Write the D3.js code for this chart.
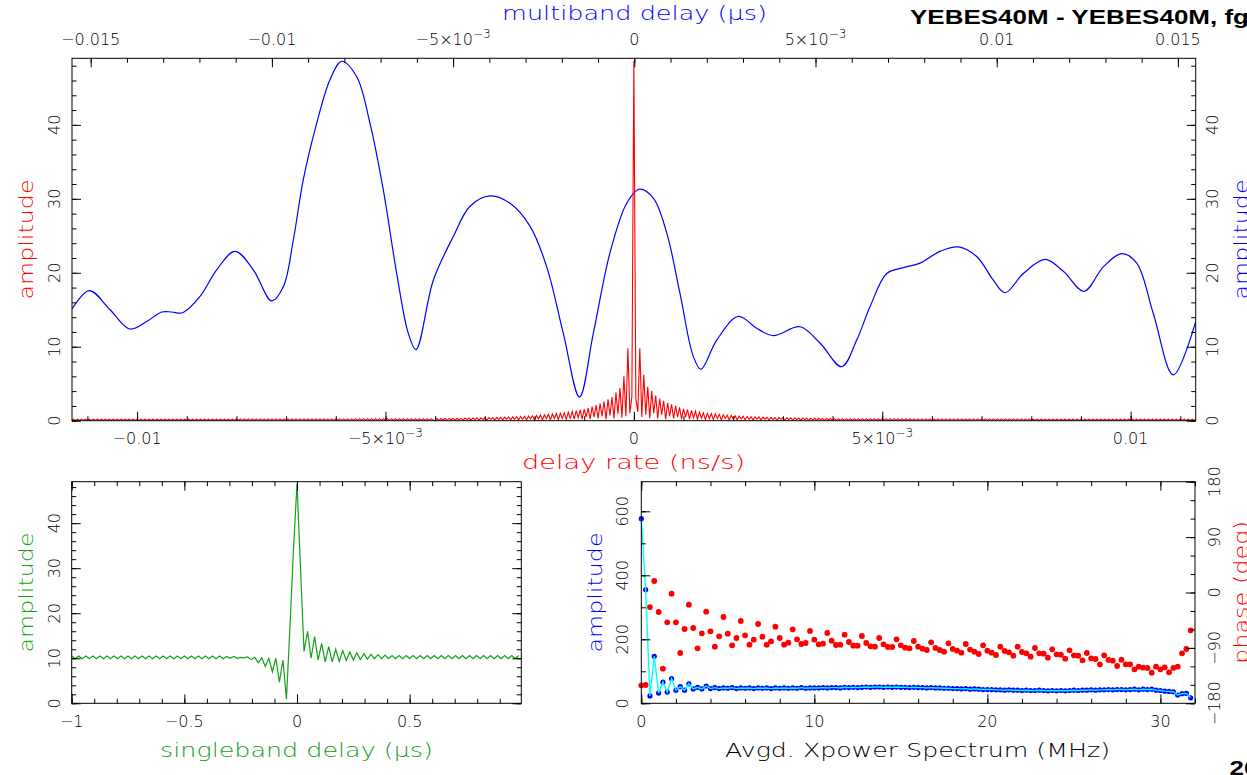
<!DOCTYPE html>
<html><head><meta charset="utf-8">
<script src="https://cdn.jsdelivr.net/npm/d3@7"></script>
<style>
html,body{margin:0;padding:0;background:#fff;overflow:hidden}
svg{display:block}
text{font-family:"DejaVu Sans",sans-serif;font-weight:200}
text.hdr{font-family:"Liberation Sans",Arial,sans-serif;font-weight:bold}
</style></head><body>
<svg id="c" width="1247" height="775"></svg>
<script>
// ---------------- DATA ----------------
// Multiband delay amplitude (top axis, microseconds) - blue curve
const mbdDelay = [-0.015516,-0.015039,-0.014467,-0.013916,-0.013455,-0.013041,-0.012765,-0.012461,-0.011984,-0.011523,
 -0.011018,-0.010513,-0.010006,-0.009685,-0.009410,-0.009134,-0.008764,-0.008397,-0.008074,-0.007660,
 -0.007293,-0.006926,-0.006556,-0.006236,-0.006024,-0.005546,-0.004995,-0.004534,-0.003982,-0.003430,
 -0.002878,-0.002417,-0.001959,-0.001512,-0.001131,-0.000671,-0.000210,0.000138,0.000524,0.000894,
 0.001261,0.001628,0.001840,0.002274,0.002870,0.003377,0.003836,0.004572,0.005124,0.005723,
 0.006137,0.006504,0.006965,0.007423,0.007884,0.008435,0.008940,0.009448,0.009906,0.010229,
 0.010734,0.011333,0.011838,0.012409,0.012942,0.013449,0.013863,0.014321,0.014873,0.015491];
const mbdAmp = [15.1,17.6,15.0,12.4,13.4,14.7,14.7,14.6,16.8,20.4,
 22.9,20.4,16.2,18.1,24.4,32.6,40.2,46.1,48.6,46.5,
 40.2,31.2,19.9,11.8,9.6,19.0,24.9,29.0,30.4,29.4,
 26.3,20.8,11.8,3.2,11.8,22.7,29.4,31.3,30.1,25.4,
 17.2,8.7,6.95,10.9,14.1,12.5,11.5,12.7,10.5,7.3,
 10.9,15.4,19.9,20.7,21.3,22.9,23.5,22.2,19.0,17.3,
 19.9,21.8,20.2,17.5,20.8,22.6,21.3,14.5,6.2,13.4];

// Delay-rate amplitude (bottom axis, ns/s) - red curve, sampled every rateStep
const rateStep = 0.00004;
const rateAmpCenter = 48.6;
const rateAmpPos = [3.0,1.2,9.8,0.5,6.2,0.8,4.6,0.3,4.0,1.0, 3.4,0.3,3.0,0.8,2.7,0.2,2.4,0.6,2.2,0.3,
 2.0,0.5,1.8,0.2,1.6,0.5,1.5,0.2,1.4,0.4, 1.3,0.2,1.15,0.35,1.05,0.15,1.0,0.3,0.95,0.15,
 0.9,0.3,0.85,0.1,0.8,0.3,0.75,0.1,0.7,0.25, 0.65,0.1,0.62,0.25,0.6,0.1,0.57,0.2,0.55,0.08,
 0.52,0.2,0.5,0.08,0.48,0.2,0.46,0.08,0.45,0.18, 0.43,0.06,0.42,0.18,0.4,0.06,0.4,0.15,0.38,0.06,
 0.37,0.15,0.36,0.05,0.35,0.15,0.34,0.05,0.33,0.12, 0.33,0.05,0.32,0.12,0.31,0.05,0.3,0.1,0.3,0.05,
 0.28,0.05,0.28,0.05,0.28,0.05,0.28,0.05,0.28,0.05,0.28,0.05,0.28,0.05,0.28,0.05,0.28,0.05,0.28,0.05,
 0.28,0.05,0.28,0.05,0.28,0.05,0.28,0.05,0.28,0.05,0.28,0.05,0.28,0.05,0.28,0.05,0.28,0.05,0.28,0.05,
 0.24,0.05,0.24,0.05,0.24,0.05,0.24,0.05,0.24,0.05,0.24,0.05,0.24,0.05,0.24,0.05,0.24,0.05,0.24,0.05,
 0.24,0.05,0.24,0.05,0.24,0.05,0.24,0.05,0.24,0.05,0.24,0.05,0.24,0.05,0.24,0.05,0.24,0.05,0.24,0.05,
 0.24,0.05,0.24,0.05,0.24,0.05,0.24,0.05,0.24,0.05,0.24,0.05,0.24,0.05,0.24,0.05,0.24,0.05,0.24,0.05,
 0.2,0.04,0.2,0.04,0.2,0.04,0.2,0.04,0.2,0.04,0.2,0.04,0.2,0.04,0.2,0.04,0.2,0.04,0.2,0.04,
 0.2,0.04,0.2,0.04,0.2,0.04,0.2,0.04,0.2,0.04,0.2,0.04,0.2,0.04,0.2,0.04,0.2,0.04,0.2,0.04,
 0.2,0.04,0.2,0.04,0.2,0.04,0.2,0.04,0.2,0.04,0.2,0.04,0.2,0.04,0.2,0.04,0.2,0.04,0.2,0.04,
 0.2,0.04,0.2,0.04,0.2,0.04,0.2,0.04,0.2,0.04,0.2,0.04,0.2,0.04,0.2,0.04,0.2,0.04,0.2,0.04,
 0.2,0.04,0.2,0.04];
const rateAmpNeg = [3.2,1.0,9.8,0.6,6.0,0.4,4.4,0.9,3.8,0.3, 3.2,0.7,2.9,0.2,2.6,0.6,2.3,0.3,2.1,0.5,
 1.9,0.2,1.7,0.5,1.55,0.2,1.45,0.4,1.35,0.2, 1.25,0.35,1.15,0.15,1.05,0.3,1.0,0.15,0.95,0.3,
 0.9,0.1,0.85,0.3,0.8,0.1,0.75,0.25,0.7,0.1, 0.66,0.25,0.62,0.1,0.6,0.2,0.57,0.08,0.54,0.2,
 0.52,0.08,0.5,0.2,0.48,0.08,0.46,0.18,0.44,0.06, 0.43,0.18,0.42,0.06,0.4,0.15,0.39,0.06,0.38,0.15,
 0.37,0.05,0.36,0.15,0.35,0.05,0.34,0.12,0.33,0.05, 0.32,0.12,0.31,0.05,0.3,0.1,0.3,0.05,0.29,0.1,
 0.05,0.28,0.05,0.28,0.05,0.28,0.05,0.28,0.05,0.28,0.05,0.28,0.05,0.28,0.05,0.28,0.05,0.28,0.05,0.28,
 0.05,0.28,0.05,0.28,0.05,0.28,0.05,0.28,0.05,0.28,0.05,0.28,0.05,0.28,0.05,0.28,0.05,0.28,0.05,0.28,
 0.05,0.24,0.05,0.24,0.05,0.24,0.05,0.24,0.05,0.24,0.05,0.24,0.05,0.24,0.05,0.24,0.05,0.24,0.05,0.24,
 0.05,0.24,0.05,0.24,0.05,0.24,0.05,0.24,0.05,0.24,0.05,0.24,0.05,0.24,0.05,0.24,0.05,0.24,0.05,0.24,
 0.05,0.24,0.05,0.24,0.05,0.24,0.05,0.24,0.05,0.24,0.05,0.24,0.05,0.24,0.05,0.24,0.05,0.24,0.05,0.24,
 0.04,0.2,0.04,0.2,0.04,0.2,0.04,0.2,0.04,0.2,0.04,0.2,0.04,0.2,0.04,0.2,0.04,0.2,0.04,0.2,
 0.04,0.2,0.04,0.2,0.04,0.2,0.04,0.2,0.04,0.2,0.04,0.2,0.04,0.2,0.04,0.2,0.04,0.2,0.04,0.2,
 0.04,0.2,0.04,0.2,0.04,0.2,0.04,0.2,0.04,0.2,0.04,0.2,0.04,0.2,0.04,0.2,0.04,0.2,0.04,0.2,
 0.04,0.2,0.04,0.2,0.04,0.2,0.04,0.2,0.04,0.2,0.04,0.2,0.04,0.2,0.04,0.2,0.04,0.2,0.04,0.2,
 0.04,0.2,0.04,0.2];

// Singleband delay amplitude (microseconds), sampled from sbdStart every sbdStep
const sbdStart = -1, sbdStep = 0.015625;
const sbdAmp = [10.5,9.9,10.5,9.9,10.5,9.9,10.5,9.9,10.5,9.9,10.5,9.9,10.5,9.9,10.5,9.9,
 10.5,9.9,10.5,9.9,10.5,9.9,10.5,9.9,10.5,9.9,10.5,9.9,10.5,9.9,10.5,9.9,
 10.5,9.9,10.5,9.9,10.5,9.9,10.5,9.9,10.5,9.9,10.5,9.9,10.4,10.0,10.4,10.0,
 10.2,10.1,10.3,9.7,10.2,9.0,10.1,8.2,10.0,7.0,10.0,4.7,9.6,0.9,17,34,
 48.8,
 30,11.5,16.0,10.0,14.8,9.6,13.3,9.2,12.6,9.2,12.0,9.3,11.7,9.5,11.4,9.6,11.2,9.7,11.0,9.8,10.9,9.9,10.8,9.9,10.7,
 9.9,10.6,9.9,10.6,9.9,10.6,9.9,10.6,9.9,10.6,9.9,10.6,9.9,10.6,9.9,10.6,9.9,10.6,9.9,
 10.6,9.9,10.6,9.9,10.6,9.9,10.6,9.9,10.6,9.9,10.6,9.9,10.6,9.9,10.6,9.9,10.6,9.9,10.6];

// Averaged cross-power spectrum, channels every specStep MHz
const specStep = 0.25;
const specAmp = [577,355,23,147,32,66,35,77,41,52,41,61,45,50,45,54,46,
 49,46,48,47,49,46,48,47,48,46,48,47,48,46,48,47,48,47,48,47,49,47,48,48,
 48,49,48,49,49,48,50,49,50,49,50,51,50,51,51,50,
 51,50,51,50,50,49,50,49,
 49,48,49,48,48,47,47,46,46,45,46,44,45,44,43,43,
 43,42,42,41,42,41,41,40,41,40,40,41,40,39,40,39,
 40,39,40,41,40,41,41,42,41,42,42,43,42,43,43,42,
 43,44,42,44,43,44,41,40,
 38,37,36,26,30,31,17];
const specPhase = [-150.8,-150.3,-23.6,18.7, -31.7,-123.7,-48.5,-1.9, -48.5,-98.3,-59.3,-19.8,
 -57.7,-90.7,-66.3,-31.2, -63.1,-88.0,-71.2,-39.8, -66.9,-85.8,-73.9,-46.3, -69.6,-84.8,-76.6,-51.2,
 -71.7,-84.8,-79.3,-55.5, -73.9,-84.8,-81.5,-59.8, -76.1,-83.7,-82.0,-62.5, -76.6,-84.2,-83.2,-65.8,
 -78.2,-85.3,-84.8,-68.5, -80.4,-86.4,-86.4,-70.7, -82.0,-87.4,-88.0,-73.9, -84.2,-88.5,-88.5,-76.1,
 -85.8,-89.6,-90.7,-78.8, -88.0,-91.2,-93.4,-81.0, -90.1,-93.4,-96.1,-82.6, -91.7,-94.5,-97.7,-83.7,
 -92.8,-96.1,-99.9,-85.8, -94.5,-97.7,-101.5,-88.0, -95.0,-97.2,-102.6,-88.0, -96.7,-98.8,-104.2,-90.2,
 -98.8,-99.4,-105.9,-92.3, -100.5,-101.0,-107.5,-93.9, -102.1,-102.6,-110.2,-98.3, -107.0,-108.0,-116.7,-102.1,
 -109.6,-110.7,-119.4,-109.1, -116.7,-116.7,-124.8,-120.5, -122.1,-122.6,-130.2,-120.5, -124.8,-121.6,-129.7,-122.6,
 -120.5,-98.8,-91.8,-61.4];

// Tick values / labels
const mainRateTicks = [-0.01,-0.005,0,0.005,0.01];
const mainRateLabels = ["\u22120.01","\u22125\u00d710^\u22123","0","5\u00d710^\u22123","0.01"];
const mainMbdTicks = [-0.015,-0.01,-0.005,0,0.005,0.01,0.015];
const mainMbdLabels = ["\u22120.015","\u22120.01","\u22125\u00d710^\u22123","0","5\u00d710^\u22123","0.01","0.015"];
const ampTicks = [0,10,20,30,40];
const ampLabels = ["0","10","20","30","40"];
const sbdTicks = [-1,-0.5,0,0.5];
const sbdLabels = ["\u22121","\u22120.5","0","0.5"];
const freqTicks = [0,10,20,30];
const freqLabels = ["0","10","20","30"];
const specAmpTicks = [0,200,400,600];
const specAmpLabels = ["0","200","400","600"];
const phaseTicks = [-180,-90,0,90,180];
const phaseLabels = ["\u2212180","\u221290","0","90","180"];

// ---------------- DRAW ----------------
const svg = d3.select("#c");
const RED = "#ff0000", BLUE = "#0000ff", GREEN = "#14a014", CYAN = "#00ffff";

const P1 = {l:72, r:1195.7, t:58.3, b:420.7};
const P2 = {l:71.7, r:521.3, t:481.7, b:703.3};
const P3 = {l:641.3, r:1195, t:481.7, b:703.3};

const xRate = d3.scaleLinear().domain([-0.01131,0.01131]).range([P1.l,P1.r]);
const xMbd = d3.scaleLinear().domain([-0.015516,0.015491]).range([P1.l,P1.r]);
const yMain = d3.scaleLinear().domain([0,49.0]).range([P1.b,P1.t]);
const xSbd = d3.scaleLinear().domain([-1,0.9956]).range([P2.l,P2.r]);
const ySbd = d3.scaleLinear().domain([0,49.2]).range([P2.b,P2.t]);
const xFreq = d3.scaleLinear().domain([0,32]).range([P3.l,P3.r]);
const ySpec = d3.scaleLinear().domain([0,692.5]).range([P3.b,P3.t]);
const yPhase = d3.scaleLinear().domain([-180,180]).range([P3.b,P3.t]);

const defs = svg.append("defs");
[["c1",P1],["c2",P2],["c3",P3]].forEach(([id,p])=>{
  defs.append("clipPath").attr("id",id).append("rect")
    .attr("x",p.l).attr("y",p.t-2).attr("width",p.r-p.l).attr("height",p.b-p.t+2);
});

// --- main panel data
const g1 = svg.append("g").attr("clip-path","url(#c1)");
const mbdPts = mbdDelay.map((d,i)=>[d,mbdAmp[i]]);
g1.append("path").datum(mbdPts)
  .attr("d", d3.line().x(d=>xMbd(d[0])).y(d=>yMain(d[1])).curve(d3.curveCatmullRom.alpha(0.5)))
  .attr("fill","none").attr("stroke",BLUE).attr("stroke-width",1.2);

const ratePts = [];
rateAmpNeg.forEach((a,i)=>ratePts.push([-(i+1)*rateStep,a]));
ratePts.reverse();
ratePts.push([0,rateAmpCenter]);
rateAmpPos.forEach((a,i)=>ratePts.push([(i+1)*rateStep,a]));
g1.append("path").datum(ratePts)
  .attr("d", d3.line().x(d=>xRate(d[0])).y(d=>yMain(d[1])))
  .attr("fill","none").attr("stroke",RED).attr("stroke-width",1.1);

// --- singleband panel
const g2 = svg.append("g").attr("clip-path","url(#c2)");
g2.append("path").datum(sbdAmp.map((a,k)=>[sbdStart+k*sbdStep,a]))
  .attr("d", d3.line().x(d=>xSbd(d[0])).y(d=>ySbd(d[1])))
  .attr("fill","none").attr("stroke",GREEN).attr("stroke-width",1.2);

// --- spectrum panel
const g3 = svg.append("g");
const specPts = specAmp.map((a,i)=>[i*specStep,a]);
g3.selectAll("circle.amp").data(specPts).enter().append("circle").attr("class","amp")
  .attr("cx",d=>xFreq(d[0])).attr("cy",d=>ySpec(d[1])).attr("r",2.6).attr("fill",BLUE);
g3.append("path").datum(specPts)
  .attr("d", d3.line().x(d=>xFreq(d[0])).y(d=>ySpec(d[1])))
  .attr("fill","none").attr("stroke",CYAN).attr("stroke-width",1.4);
g3.selectAll("circle.ph").data(specPhase.map((p,i)=>[i*specStep,p])).enter().append("circle").attr("class","ph")
  .attr("cx",d=>xFreq(d[0])).attr("cy",d=>yPhase(d[1])).attr("r",2.9).attr("fill",RED);

// --- frames
[P1,P2,P3].forEach(p=>{
  svg.append("rect").attr("x",p.l).attr("y",p.t).attr("width",p.r-p.l).attr("height",p.b-p.t)
    .attr("fill","none").attr("stroke","#000").attr("stroke-width",1);
});

// --- ticks
function tickSet(orient, scale, pos, major, minor){
  const gen = {bottom:d3.axisBottom, top:d3.axisTop, left:d3.axisLeft, right:d3.axisRight}[orient];
  const tr = (orient==="bottom"||orient==="top") ? `translate(0,${pos})` : `translate(${pos},0)`;
  [[minor,4.5],[major,9]].forEach(([vals,len])=>{
    const g = svg.append("g").attr("transform",tr);
    g.call(gen(scale).tickValues(vals).tickSize(-len).tickFormat(""));
    g.select(".domain").remove();
    g.selectAll(".tick line").attr("stroke","#000").attr("stroke-width",1);
  });
}
const rng = (a,b,s)=>d3.range(Math.round(a/s),Math.round(b/s)+1).map(i=>+(i*s).toFixed(6));
tickSet("bottom", xRate, P1.b, mainRateTicks, rng(-0.011,0.011,0.001));
tickSet("top", xMbd, P1.t, mainMbdTicks, rng(-0.015,0.015,0.001));
tickSet("left", yMain, P1.l, ampTicks, rng(0,48,2));
tickSet("right", yMain, P1.r, ampTicks, rng(0,48,2));

tickSet("bottom", xSbd, P2.b, sbdTicks, rng(-1,0.9,0.1));
tickSet("top", xSbd, P2.t, sbdTicks, rng(-1,0.9,0.1));
tickSet("left", ySbd, P2.l, ampTicks, rng(0,48,2));
tickSet("right", ySbd, P2.r, ampTicks, rng(0,48,2));

tickSet("bottom", xFreq, P3.b, freqTicks, rng(0,32,2));
tickSet("top", xFreq, P3.t, freqTicks, rng(0,32,2));
tickSet("left", ySpec, P3.l, specAmpTicks, rng(0,600,100));
tickSet("right", yPhase, P3.r, phaseTicks, rng(-180,180,30));

// --- tick labels
function xLabels(scale, vals, labels, y){
  vals.forEach((v,i)=>{
    const t = svg.append("text").attr("x",scale(v)).attr("y",y).attr("text-anchor","middle")
      .attr("font-size",16).attr("fill","#000");
    const parts = labels[i].split("^");
    t.append("tspan").text(parts[0]);
    if(parts[1]) t.append("tspan").attr("dy",-7).attr("font-size",12).text(parts[1]);
  });
}
function yLabels(scale, vals, labels, x){
  vals.forEach((v,i)=>{
    svg.append("text").attr("transform",`translate(${x},${scale(v)}) rotate(-90)`)
      .attr("text-anchor","middle").attr("font-size",16).attr("fill","#000").text(labels[i]);
  });
}
xLabels(xMbd, mainMbdTicks, mainMbdLabels, 45);
xLabels(xRate, mainRateTicks, mainRateLabels, 443.5);
yLabels(yMain, ampTicks, ampLabels, 60);
yLabels(yMain, ampTicks, ampLabels, 1218);
xLabels(xSbd, sbdTicks, sbdLabels, 726.7);
yLabels(ySbd, ampTicks, ampLabels, 60);
xLabels(xFreq, freqTicks, freqLabels, 726.7);
yLabels(ySpec, specAmpTicks, specAmpLabels, 628);
yLabels(yPhase, phaseTicks, phaseLabels, 1220);

// --- axis titles
function title(txt, x, y, color, len, rot){
  svg.append("text").attr("transform",`translate(${x},${y})${rot?" rotate(-90)":""}`)
    .attr("text-anchor","middle").attr("font-size",19).attr("fill",color)
    .attr("textLength",len).attr("lengthAdjust","spacingAndGlyphs").text(txt);
}
title("multiband delay (\u00b5s)", 634.5, 20, BLUE, 265, false);
title("delay rate (ns/s)", 633.5, 469, RED, 223, false);
title("amplitude", 33.3, 239.5, RED, 120, true);
title("amplitude", 1248.3, 239.5, BLUE, 120, true);
title("singleband delay (\u00b5s)", 296.5, 756.7, GREEN, 273, false);
title("amplitude", 33.3, 592.5, GREEN, 120, true);
title("Avgd. Xpower Spectrum (MHz)", 917.5, 756.7, "#000", 385, false);
title("amplitude", 601.6, 592.5, BLUE, 120, true);
title("phase (deg)", 1248.3, 592.5, RED, 143, true);

// --- header text
svg.append("text").attr("class","hdr").attr("transform","translate(910,23.5) scale(1.3,1)")
  .attr("font-size",20).attr("fill","#000").text("YEBES40M - YEBES40M, fg");
svg.append("text").attr("class","hdr").attr("transform","translate(1229.5,775) scale(1.3,1)")
  .attr("font-size",20).attr("fill","#000").text("20");
</script>
</body></html>
